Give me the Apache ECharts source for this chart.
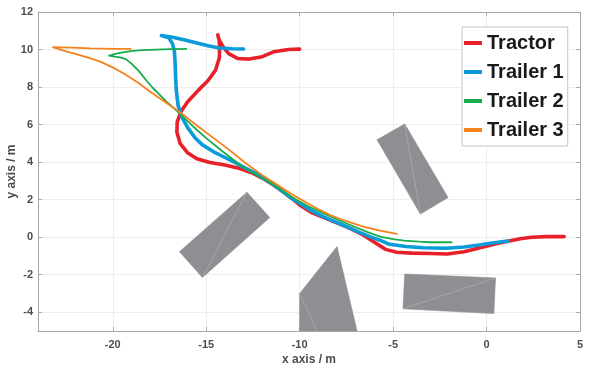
<!DOCTYPE html>
<html>
<head>
<meta charset="utf-8">
<script src="https://cdn.jsdelivr.net/npm/echarts@6/dist/echarts.min.js"></script>
<style>html,body{margin:0;padding:0;background:#fff}#c{width:594px;height:373px}</style>
</head>
<body>
<div id="c"></div>
<script>
// ---- data ----
const seriesNames = ['Tractor', 'Trailer 1', 'Trailer 2', 'Trailer 3'];
const xTicks = [-20, -15, -10, -5, 0, 5];
const yTicks = [-4, -2, 0, 2, 4, 6, 8, 10, 12];

const tractor = [[-10.0,10.02],[-10.6,10.0],[-11.4,9.88],[-12.0,9.62],[-12.7,9.49],[-13.3,9.52],[-13.8,9.78],[-14.1,10.15],[-14.3,10.5],[-14.38,10.78],[-14.3,10.45],[-14.28,10.1],[-14.3,9.55],[-14.5,8.9],[-14.9,8.35],[-15.4,7.85],[-15.98,7.23],[-16.35,6.7],[-16.55,6.15],[-16.57,5.6],[-16.4,5.0],[-16.0,4.5],[-15.5,4.18],[-14.8,3.98],[-14.0,3.85],[-13.2,3.66],[-12.6,3.45],[-12.0,3.15],[-11.4,2.78],[-10.9,2.43],[-10.4,2.05],[-10.0,1.72],[-9.3,1.28],[-8.4,0.92],[-7.3,0.47],[-6.6,0.12],[-6.0,-0.27],[-5.4,-0.65],[-4.8,-0.8],[-4.0,-0.85],[-3.0,-0.87],[-2.1,-0.9],[-1.2,-0.78],[-0.4,-0.58],[0.4,-0.38],[1.2,-0.2],[1.8,-0.08],[2.4,0.0],[3.2,0.03],[4.15,0.03]];
const trailer1 = [[-13.0,10.03],[-13.6,10.04],[-14.3,10.08],[-14.9,10.2],[-15.5,10.35],[-16.2,10.52],[-16.8,10.65],[-17.4,10.75],[-17.0,10.62],[-16.8,10.3],[-16.7,9.9],[-16.66,9.2],[-16.64,8.6],[-16.6,7.8],[-16.5,7.0],[-16.3,6.4],[-16.0,5.85],[-15.6,5.3],[-15.2,4.92],[-14.6,4.55],[-14.1,4.3],[-13.5,4.0],[-12.9,3.68],[-12.3,3.38],[-11.4,2.8],[-10.6,2.2],[-10.0,1.81],[-9.4,1.43],[-8.75,1.1],[-8.1,0.82],[-7.5,0.57],[-6.9,0.3],[-6.25,0.03],[-5.7,-0.16],[-5.2,-0.38],[-4.3,-0.5],[-3.4,-0.56],[-2.2,-0.59],[-1.2,-0.52],[-0.4,-0.42],[0.4,-0.3],[1.15,-0.2]];
const trailer2 = [[-16.07,10.03],[-16.9,10.02],[-17.7,10.0],[-18.4,9.97],[-18.93,9.93],[-19.4,9.86],[-19.75,9.8],[-20.2,9.67],[-19.9,9.62],[-19.55,9.57],[-19.3,9.49],[-19.0,9.25],[-18.6,8.85],[-18.2,8.35],[-17.85,7.95],[-17.5,7.6],[-17.1,7.2],[-16.7,6.85],[-16.35,6.52],[-15.7,5.9],[-15.0,5.28],[-14.1,4.55],[-13.2,3.86],[-12.3,3.3],[-11.4,2.8],[-10.2,2.0],[-9.5,1.62],[-8.75,1.28],[-7.9,0.9],[-7.1,0.57],[-6.4,0.28],[-5.7,0.03],[-5.0,-0.1],[-4.4,-0.18],[-3.6,-0.24],[-3.0,-0.27],[-1.87,-0.27]];
const trailer3 = [[-19.05,10.03],[-20.0,10.04],[-21.2,10.06],[-22.2,10.1],[-23.2,10.13],[-22.8,10.0],[-22.5,9.9],[-22.1,9.8],[-21.4,9.6],[-20.7,9.37],[-20.0,9.05],[-19.3,8.66],[-18.6,8.2],[-18.0,7.75],[-17.2,7.2],[-16.3,6.58],[-15.5,5.95],[-14.6,5.28],[-13.7,4.6],[-12.9,3.95],[-12.0,3.3],[-11.4,2.92],[-10.2,2.16],[-9.3,1.65],[-8.4,1.19],[-7.5,0.85],[-6.6,0.56],[-5.7,0.35],[-4.8,0.18]];

// obstacles: polygon vertices and the faint diagonal (from, to)
const obstacleA = [[-12.82,2.4],[-11.6,1.05],[-15.2,-2.15],[-16.43,-0.77]];
const diagA = [[-12.82,2.4],[-15.2,-2.15]];
const obstacleB = [[-10.0,-3.0],[-8.0,-0.5],[-6.93,-5.0],[-10.0,-5.0]];
const diagB = [[-10.0,-3.0],[-9.07,-5.0]];
const obstacleC = [[-4.38,-1.96],[0.48,-2.17],[0.39,-4.07],[-4.47,-3.82]];
const diagC = [[-4.47,-3.82],[0.48,-2.17]];
const obstacleD = [[-4.38,6.03],[-2.06,2.11],[-3.54,1.23],[-5.86,5.19]];
const diagD = [[-4.38,6.03],[-3.54,1.23]];
const obstacles = [obstacleA, obstacleB, obstacleC, obstacleD];
const diagonals = [diagA, diagB, diagC, diagD];

// ---- chart ----
const colors = ['#e8202a', '#0a9bd9', '#17ad4a', '#f5821f'];
const widths = [3.6, 3.6, 1.8, 1.8];
const trajectories = [tractor, trailer1, trailer2, trailer3];
const FONT = '"Liberation Sans", Arial, sans-serif';
const axisColor = '#a8a8a8';

const chart = echarts.init(document.getElementById('c'), null, {renderer: 'canvas'});

const obstacleSeries = {
  type: 'custom',
  name: 'obstacles',
  xAxisIndex: 0, yAxisIndex: 0,
  silent: true,
  clip: true,
  z: 1,
  data: obstacles.map((o, i) => [i]),
  renderItem: function (params, api) {
    const idx = api.value(0);
    const pts = obstacles[idx].map(p => api.coord(p));
    const d = diagonals[idx].map(p => api.coord(p));
    return {
      type: 'group',
      children: [
        {type: 'polygon', shape: {points: pts}, style: {fill: '#8e8f93', stroke: '#8a8b8f', lineWidth: 0.6}},
        {type: 'line', shape: {x1: d[0][0], y1: d[0][1], x2: d[1][0], y2: d[1][1]}, style: {stroke: '#a9aaae', lineWidth: 0.8}}
      ]
    };
  }
};

const lineSeries = trajectories.map((t, i) => ({
  type: 'line',
  name: seriesNames[i],
  data: t,
  showSymbol: false,
  symbol: 'none',
  smooth: false,
  z: 2 + i,
  lineStyle: {color: colors[i], width: widths[i], cap: 'round', join: 'round'},
  itemStyle: {color: colors[i]},
  xAxisIndex: 0, yAxisIndex: 0
}));

const labelStyle = {color: '#4d4d4d', fontWeight: 'bold', fontSize: 11, fontFamily: FONT};

const option = {
  animation: false,
  backgroundColor: '#ffffff',
  grid: {left: 38, right: 14, top: 12, bottom: 42, containLabel: false, outerBoundsMode: 'none'},
  legend: {
    data: seriesNames,
    orient: 'vertical',
    left: 462, top: 27,
    padding: [6, 4, 6, 2],
    itemGap: 9,
    itemWidth: 18, itemHeight: 4,
    icon: 'rect',
    backgroundColor: '#ffffff',
    borderColor: '#c4c4c4', borderWidth: 1,
    textStyle: {fontSize: 20, fontWeight: 'bold', color: '#1a1a1a', fontFamily: FONT}
  },
  xAxis: [{
    type: 'value', min: -24, max: 5, position: 'bottom',
    name: 'x axis / m', nameLocation: 'middle', nameGap: 23, nameMoveOverlap: false,
    nameTextStyle: {fontSize: 12, fontWeight: 'bold', color: '#4d4d4d', fontFamily: FONT},
    axisLine: {show: true, onZero: false, lineStyle: {color: axisColor, width: 1}},
    axisTick: {show: true, inside: true, length: 4, customValues: xTicks, lineStyle: {color: axisColor}},
    axisLabel: Object.assign({customValues: xTicks, margin: 8}, labelStyle),
    splitLine: {show: true, lineStyle: {color: '#ededed', width: 1}}
  }, {
    type: 'value', min: -24, max: 5, position: 'top',
    axisLine: {show: true, onZero: false, lineStyle: {color: axisColor, width: 1}},
    axisTick: {show: true, inside: true, length: 4, customValues: xTicks, lineStyle: {color: axisColor}},
    axisLabel: {show: false},
    splitLine: {show: false}
  }],
  yAxis: [{
    type: 'value', min: -5, max: 12, position: 'left',
    name: 'y axis / m', nameLocation: 'middle', nameGap: 20, nameMoveOverlap: false,
    nameTextStyle: {fontSize: 12, fontWeight: 'bold', color: '#4d4d4d', fontFamily: FONT},
    axisLine: {show: true, onZero: false, lineStyle: {color: axisColor, width: 1}},
    axisTick: {show: true, inside: true, length: 4, customValues: yTicks, lineStyle: {color: axisColor}},
    axisLabel: Object.assign({customValues: yTicks, margin: 5}, labelStyle),
    splitLine: {show: true, lineStyle: {color: '#ededed', width: 1}}
  }, {
    type: 'value', min: -5, max: 12, position: 'right',
    axisLine: {show: true, onZero: false, lineStyle: {color: axisColor, width: 1}},
    axisTick: {show: true, inside: true, length: 4, customValues: yTicks, lineStyle: {color: axisColor}},
    axisLabel: {show: false},
    splitLine: {show: false}
  }],
  series: [obstacleSeries].concat(lineSeries)
};
chart.setOption(option);
</script>
</body>
</html>
